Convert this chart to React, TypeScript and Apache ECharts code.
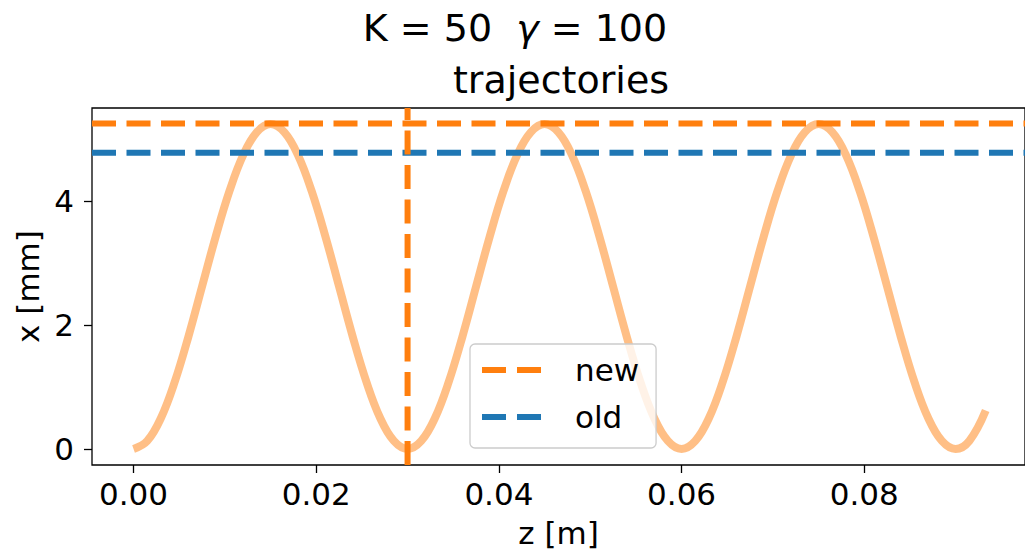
import React, { useEffect, useRef } from "react";
import * as echarts from "echarts";

const zData = [
  0.0, 0.0015, 0.003, 0.0045, 0.006, 0.0075, 0.009, 0.0105, 0.012, 0.0135,
  0.015, 0.0165, 0.018, 0.0195, 0.021, 0.0225, 0.024, 0.0255, 0.027, 0.0285,
  0.03, 0.0315, 0.033, 0.0345, 0.036, 0.0375, 0.039, 0.0405, 0.042, 0.0435,
  0.045, 0.0465, 0.048, 0.0495, 0.051, 0.0525, 0.054, 0.0555, 0.057, 0.0585,
  0.06, 0.0615, 0.063, 0.0645, 0.066, 0.0675, 0.069, 0.0705, 0.072, 0.0735,
  0.075, 0.0765, 0.078, 0.0795, 0.081, 0.0825, 0.084, 0.0855, 0.087, 0.0885,
  0.09, 0.0915, 0.0933,
];
const xData = [
  0.0, 0.13, 0.5, 1.08, 1.81, 2.62, 3.43, 4.16, 4.74, 5.11,
  5.24, 5.11, 4.74, 4.16, 3.43, 2.62, 1.81, 1.08, 0.5, 0.13,
  0.0, 0.13, 0.5, 1.08, 1.81, 2.62, 3.43, 4.16, 4.74, 5.11,
  5.24, 5.11, 4.74, 4.16, 3.43, 2.62, 1.81, 1.08, 0.5, 0.13,
  0.0, 0.13, 0.5, 1.08, 1.81, 2.62, 3.43, 4.16, 4.74, 5.11,
  5.24, 5.11, 4.74, 4.16, 3.43, 2.62, 1.81, 1.08, 0.5, 0.13,
  0.0, 0.13, 0.62,
];

// Reference levels
const newLevel = 5.25;
const oldLevel = 4.78;
const zMarker = 0.03;

// Ticks
const xTicks = [0, 0.02, 0.04, 0.06, 0.08];
const yTicks = [0, 2, 4];

// Axis limits
const X_MIN = -0.00455;
const X_MAX = 0.0976;
const Y_MIN = -0.258;
const Y_MAX = 5.5;

const ORANGE = "#ff7f0e";
const BLUE = "#1f77b4";
const FONT = "DejaVu Sans";
const DASH_ICON = "path://M0,0H24V6H0Z M35,0H59V6H35Z";

export default function App() {
  const ref = useRef<HTMLDivElement>(null);

  useEffect(() => {
    if (!ref.current) return;
    const chart = echarts.init(ref.current, null, { renderer: "svg" });
    const curve = zData.map((z, i) => [z, xData[i]]);
    const dash = [24, 10.5];

    chart.setOption({
      animation: false,
      textStyle: { fontFamily: FONT },
      grid: {
        left: 92,
        top: 108,
        right: -8,
        bottom: 88,
        show: true,
        borderColor: "#000",
        borderWidth: 1.3,
        backgroundColor: "transparent",
      },
      xAxis: {
        type: "value",
        min: X_MIN,
        max: X_MAX,
        name: "z [m]",
        nameLocation: "middle",
        nameGap: 52,
        nameTextStyle: { fontSize: 31, color: "#000", fontFamily: FONT },
        splitLine: { show: false },
        axisLine: { show: false, onZero: false },
        axisTick: {
          show: true,
          length: 8,
          customValues: xTicks,
          lineStyle: { color: "#000", width: 1.3 },
        },
        axisLabel: {
          customValues: xTicks,
          formatter: (v: number) => v.toFixed(2),
          fontSize: 31,
          color: "#000",
          fontFamily: FONT,
          margin: 13,
        },
      },
      yAxis: {
        type: "value",
        min: Y_MIN,
        max: Y_MAX,
        name: "x [mm]",
        nameLocation: "middle",
        nameRotate: 90,
        nameGap: 48,
        nameTextStyle: { fontSize: 31, color: "#000", fontFamily: FONT },
        splitLine: { show: false },
        axisLine: { show: false, onZero: false },
        axisTick: {
          show: true,
          length: 8,
          customValues: yTicks,
          lineStyle: { color: "#000", width: 1.3 },
        },
        axisLabel: {
          customValues: yTicks,
          formatter: (v: number) => String(v),
          fontSize: 31,
          color: "#000",
          fontFamily: FONT,
          margin: 18,
        },
      },
      legend: {
        data: [
          { name: "new", icon: DASH_ICON, itemStyle: { color: ORANGE } },
          { name: "old", icon: DASH_ICON, itemStyle: { color: BLUE } },
        ],
        orient: "vertical",
        left: 470,
        top: 344,
        itemWidth: 59,
        itemHeight: 6,
        itemGap: 11,
        padding: [8, 17, 13, 12],
        backgroundColor: "rgba(255,255,255,0.8)",
        borderColor: "#cccccc",
        borderWidth: 1.3,
        borderRadius: 5,
        selectedMode: false,
        textStyle: {
          fontSize: 31,
          color: "#000",
          fontFamily: FONT,
          lineHeight: 36,
          padding: [0, 0, 0, 29],
        },
      },
      series: [
        {
          name: "trajectory",
          type: "line",
          data: curve,
          showSymbol: false,
          symbol: "none",
          smooth: 0.4,
          lineStyle: { color: ORANGE, width: 8, opacity: 0.5 },
          z: 1,
        },
        {
          name: "new",
          type: "line",
          data: [
            [X_MIN, newLevel],
            [X_MAX, newLevel],
          ],
          showSymbol: false,
          symbol: "none",
          color: ORANGE,
          lineStyle: { color: ORANGE, width: 6, type: dash },
          z: 2,
        },
        {
          name: "old",
          type: "line",
          data: [
            [X_MIN, oldLevel],
            [X_MAX, oldLevel],
          ],
          showSymbol: false,
          symbol: "none",
          color: BLUE,
          lineStyle: { color: BLUE, width: 6, type: dash },
          z: 2,
        },
        {
          name: "new z",
          type: "line",
          data: [
            [zMarker, Y_MIN],
            [zMarker, Y_MAX],
          ],
          showSymbol: false,
          symbol: "none",
          color: ORANGE,
          lineStyle: { color: ORANGE, width: 6, type: dash },
          z: 2,
        },
      ],
      graphic: [
        {
          type: "text",
          x: 515,
          y: 28,
          style: {
            text: "{a|K = 50  }{g|γ}{a| = 100}",
            rich: {
              a: { fontSize: 38, fontFamily: FONT, fill: "#000" },
              g: { fontSize: 38, fontFamily: FONT, fill: "#000", fontStyle: "italic" },
            },
            fontSize: 38,
            fontFamily: FONT,
            fill: "#000",
            textAlign: "center",
            textVerticalAlign: "middle",
          },
        },
        {
          type: "text",
          x: 561,
          y: 80,
          style: {
            text: "trajectories",
            fontSize: 38,
            fontFamily: FONT,
            fill: "#000",
            textAlign: "center",
            textVerticalAlign: "middle",
          },
        },
      ],
    });

    return () => chart.dispose();
  }, []);

  return (
    <div
      ref={ref}
      style={{ position: "absolute", left: 0, top: 0, width: 1025, height: 553 }}
    />
  );
}
